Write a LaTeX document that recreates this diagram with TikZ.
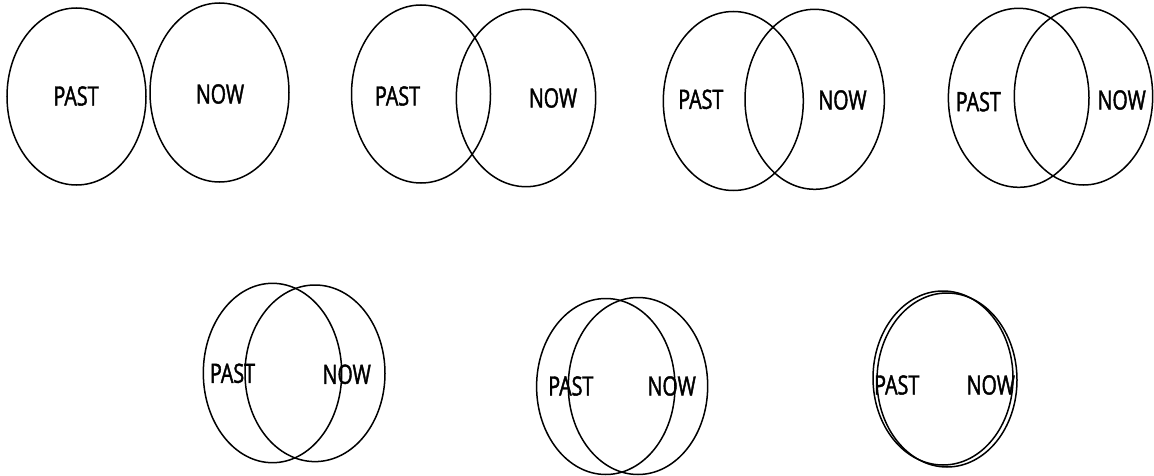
\documentclass[tikz,border=0pt]{standalone}
\usepackage{fontspec}
\newfontfamily\lblfont[FakeStretch=0.74,FakeBold=1.6]{Open Sans}
\usetikzlibrary{shapes.geometric}
\tikzset{
  ring/.style={draw, ellipse, line width=1.5pt, inner sep=0pt, outer sep=0pt},
  lbl/.style={font=\lblfont\fontsize{26.6}{30}\selectfont, inner sep=0pt}
}
\begin{document}
\begin{tikzpicture}[x=1pt,y=-1pt]
\useasboundingbox (0,0) rectangle (1154,476);
% pair 1
\node[ring, minimum width=139pt, minimum height=177pt] (l1) at (76.5,96.5) {};
\node[ring, minimum width=139pt, minimum height=179pt] (r1) at (219.5,92.5) {};
\node[lbl] (p1) at (76,96) {PAST};
\node[lbl] (n1) at (220,94) {NOW};
% pair 2
\node[ring, minimum width=139pt, minimum height=178pt] (l2) at (421,94) {};
\node[ring, minimum width=139.4pt, minimum height=177.4pt] (r2) at (526,98) {};
\node[lbl] (p2) at (397.5,96) {PAST};
\node[lbl] (n2) at (553,98) {NOW};
% pair 3
\node[ring, minimum width=140pt, minimum height=179pt] (l3) at (733.3,101) {};
\node[ring, minimum width=139.4pt, minimum height=180pt] (r3) at (814.7,99.3) {};
\node[lbl] (p3) at (700.8,99.3) {PAST};
\node[lbl] (n3) at (842.5,100) {NOW};
% pair 4
\node[ring, minimum width=140.6pt, minimum height=179pt] (l4) at (1018.7,97.8) {};
\node[ring, minimum width=138.4pt, minimum height=177.6pt] (r4) at (1083.5,96.2) {};
\node[lbl] (p4) at (978.3,101.7) {PAST};
\node[lbl] (n4) at (1121.7,100) {NOW};
% pair 5
\node[ring, minimum width=138.4pt, minimum height=179.4pt] (l5) at (272.5,373) {};
\node[ring, minimum width=140pt, minimum height=176.6pt] (r5) at (315,373.3) {};
\node[lbl] (p5) at (232.5,373.3) {PAST};
\node[lbl] (n5) at (346.7,374.3) {NOW};
% pair 6
\node[ring, minimum width=138.4pt, minimum height=176pt] (l6) at (605.8,386.5) {};
\node[ring, minimum width=139.4pt, minimum height=177pt] (r6) at (638,386) {};
\node[lbl] (p6) at (570.8,386) {PAST};
\node[lbl] (n6) at (671.7,386) {NOW};
% pair 7
\node[ring, minimum width=140pt, minimum height=174pt] (l7) at (943,378) {};
\node[ring, minimum width=140pt, minimum height=174pt] (r7) at (947,380) {};
\node[lbl] (p7) at (896.7,385) {PAST};
\node[lbl] (n7) at (990.8,385) {NOW};
\end{tikzpicture}
\end{document}
